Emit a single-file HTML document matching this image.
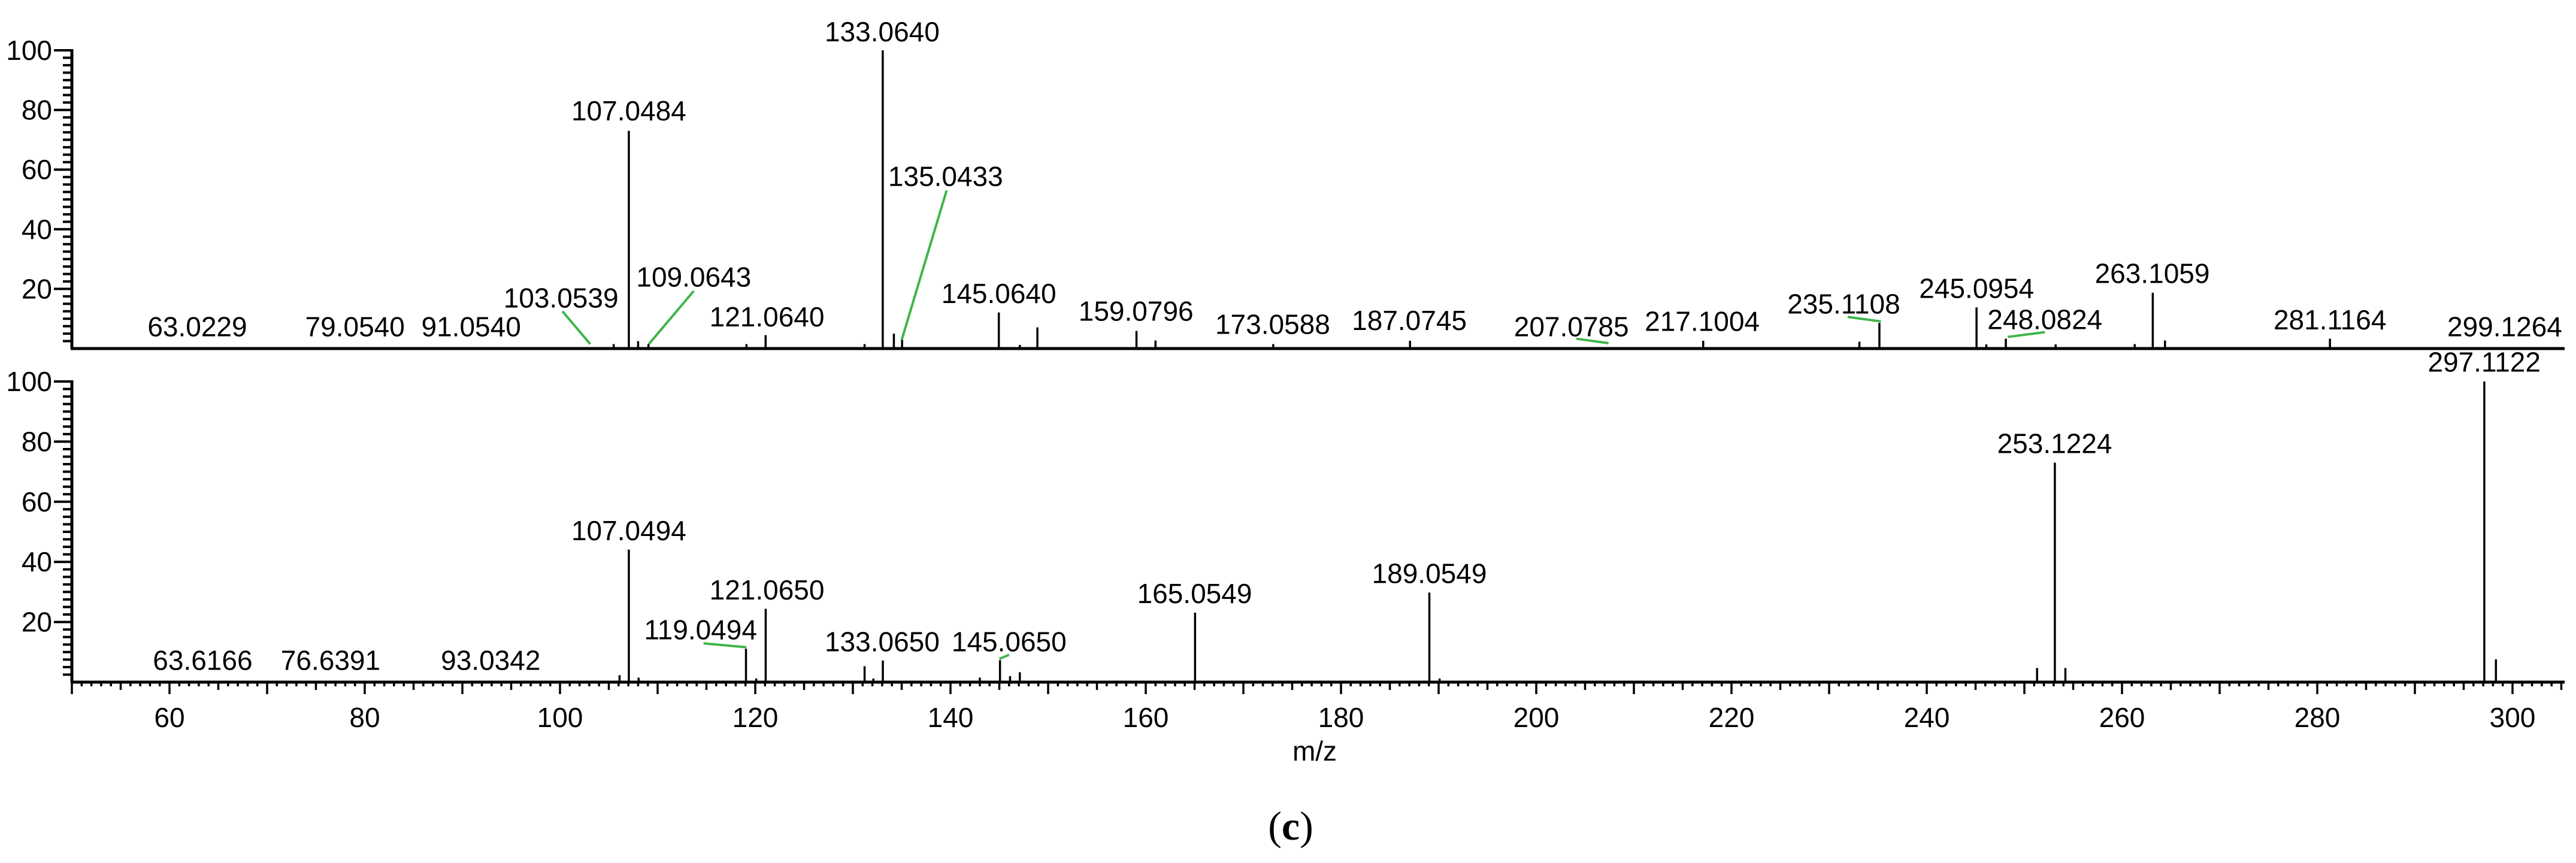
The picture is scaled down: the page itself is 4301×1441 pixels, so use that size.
<!DOCTYPE html>
<html><head><meta charset="utf-8"><style>
html,body{margin:0;padding:0;background:#fff;}
svg{display:block;}
text{font-family:"Liberation Sans",Arial,sans-serif;fill:#000;}
</style></head><body>
<svg id="chart" width="4301" height="1441" viewBox="0 0 4301 1441" xmlns="http://www.w3.org/2000/svg">
<g id="top-panel"></g>
<g id="bot-panel"></g>
<g id="xaxis"></g>
<text x="2195" y="1270" font-size="46" text-anchor="middle">m/z</text>
<text x="2155" y="1402" font-size="68" text-anchor="middle" style="font-family:'Liberation Serif',serif">(<tspan font-weight="bold">c</tspan>)</text>
</svg>
<script>
// top spectrum peaks
const topMz = [105.5,107.05,108,109.06,119.1,121.06,131.2,133.06,134.2,135.04,144.95,147.1,148.9,159.05,161,173.06,187.07,217.1,233.1,235.15,245.1,246.1,248.1,253.2,261.3,263.15,264.4,281.3];
const topInt = [1.5,73,2.5,1.5,1.5,4.5,1.5,100,5,2.9,12.1,1.2,7.1,5.9,2.7,1.5,2.6,2.6,2.3,8.6,13.8,1.4,3.3,1.4,1.5,18.7,2.7,3.3];
const topLabels = ["63.0229","79.0540","91.0540","103.0539","107.0484","109.0643","121.0640","133.0640","135.0433","145.0640","159.0796","173.0588","187.0745","207.0785","217.1004","235.1108","245.0954","248.0824","263.1059","281.1164","299.1264"];
const topLabelMz = [62.85,79.0,90.9,100.1,107.05,113.7,121.2,133.0,139.5,144.95,159.0,173.0,187.0,203.6,217.0,231.5,245.1,252.1,263.1,281.3,299.2];
const topLabelInt = [4.1,4.1,4.1,13.8,76.5,20.8,7.4,103,54.5,15.3,9.3,4.9,6.2,4.1,5.9,11.7,17,6.5,22,6.4,4.1];
const topLeaders = [[100.25,12.5,103.1,1.5],[113.7,19.3,109.1,1.5],[139.6,53,135.0,2.9],[204.1,3.3,207.4,1.8],[231.9,10.6,235.3,9.1],[248.3,3.9,252.1,5.5]];
// bottom spectrum peaks
const botMz = [106.1,107.05,108.05,119.05,120.1,121.07,131.2,132.1,133.07,143.0,145.07,146.1,147.1,165.05,189.05,190.1,251.3,253.12,254.2,297.11,298.3];
const botInt = [2.3,44.1,1.5,11.1,1.2,24.4,5.3,1.2,7.2,1.5,7.3,2,3.3,23.1,29.8,1.2,4.7,73,4.7,100,7.6];
const botLabels = ["63.6166","76.6391","93.0342","107.0494","119.0494","121.0650","133.0650","145.0650","165.0549","189.0549","253.1224","297.1122"];
const botLabelMz = [63.4,76.5,92.9,107.05,114.4,121.2,133.0,146.0,165.0,189.05,253.1,297.1];
const botLabelInt = [4.1,4.1,4.1,47.2,14.2,27.5,10.3,10.3,26.3,33,76.2,103.3];
const botLeaders = [[114.7,12.9,119.1,11.6],[145.0,7.7,146.0,9.1]];
const yTicks = [20,40,60,80,100];
const xTickLabels = [60,80,100,120,140,160,180,200,220,240,260,280,300];

const NS="http://www.w3.org/2000/svg";
const X0 = 120;
const X = m => X0 + (m-50)*16.3;
const Yt = v => 582 - v*4.98;
const Yb = v => 1139 - v*5.02;
function mk(parent, tag, attrs){const e=document.createElementNS(NS,tag);for(const k in attrs)e.setAttribute(k,attrs[k]);parent.appendChild(e);return e;}

function panel(g, Y, mz, inten, labels, lmz, lint, leaders, prefix){
  const ya = mk(g,'line',{x1:X0,y1:Y(100)-2,x2:X0,y2:Y(0),stroke:'#000','stroke-width':5});
  
  
  for(let v=2.5; v<=100; v+=2.5){
    const major = (v%20===0);
    const t = mk(g,'line',{x1:major?X0-30:X0-15,y1:Y(v),x2:X0,y2:Y(v),stroke:'#000','stroke-width':4});
    
    
  }
  yTicks.forEach(v=>{
    const t = mk(g,'text',{x:X0-33,y:Y(v)+16,'font-size':46,'text-anchor':'end'});
    t.textContent=v;
    
    
  });
  const bl = mk(g,'line',{x1:X0-2,y1:Y(0),x2:4282,y2:Y(0),stroke:'#000','stroke-width':5});
  
  
  mz.forEach((m,i)=>{
    const p = mk(g,'line',{x1:X(m),y1:Y(0),x2:X(m),y2:Y(inten[i]),stroke:'#000','stroke-width':3.5});
    
    
  });
  leaders.forEach(l=>{
    const ln = mk(g,'line',{x1:X(l[0]),y1:Y(l[1]),x2:X(l[2]),y2:Y(l[3]),stroke:'#3fb54a','stroke-width':4});
    
    
  });
  labels.forEach((s,i)=>{
    const t = mk(g,'text',{x:X(lmz[i]),y:Y(lint[i]),'font-size':46,'text-anchor':'middle'});
    t.textContent=s;
    
    
  });
}
panel(document.getElementById('top-panel'), Yt, topMz, topInt, topLabels, topLabelMz, topLabelInt, topLeaders, 'top');
panel(document.getElementById('bot-panel'), Yb, botMz, botInt, botLabels, botLabelMz, botLabelInt, botLeaders, 'bottom');

const xa = document.getElementById('xaxis');
for(let m=50; m<=305; m++){
  const len = (m%10===0)?20:((m%5===0)?13:7);
  const t = mk(xa,'line',{x1:X(m),y1:1139,x2:X(m),y2:1139+len,stroke:'#000','stroke-width':3.5});
  
  
}
xTickLabels.forEach(v=>{
  const t = mk(xa,'text',{x:X(v),y:1214,'font-size':46,'text-anchor':'middle'});
  t.textContent=v;
  
  
});
</script>
</body></html>
